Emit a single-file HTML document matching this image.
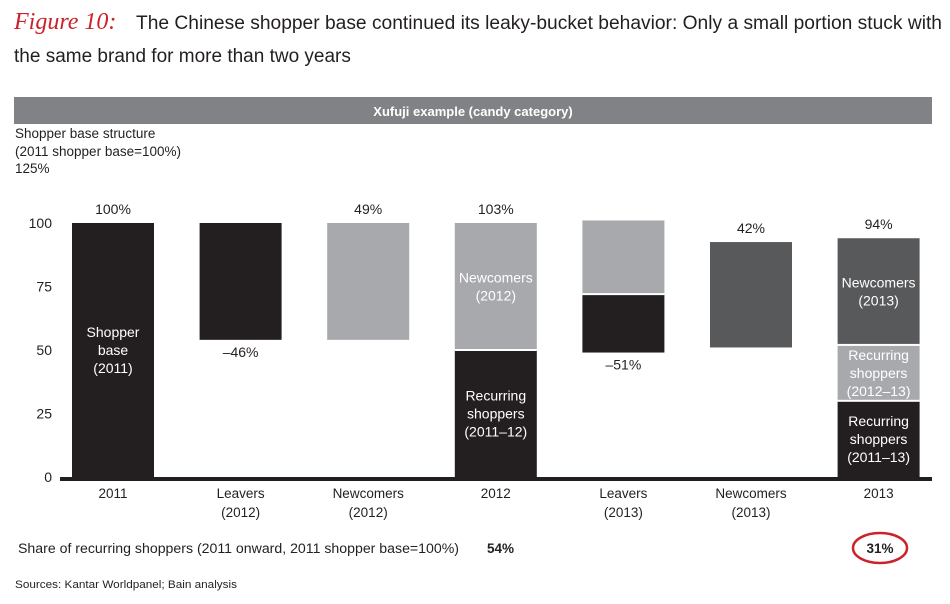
<!DOCTYPE html>
<html><head><meta charset="utf-8"><style>
body{margin:0;background:#fff;width:950px;height:604px;overflow:hidden}
svg{display:block;font-family:"Liberation Sans",sans-serif}
</style></head><body>
<svg id="chart" width="950" height="604" viewBox="0 0 950 604">
<text x="14" y="29" font-size="24" fill="#cc2229" font-family="Liberation Serif,serif" font-style="italic">Figure 10:</text>
<text x="136" y="29" font-size="19" fill="#231f20" textLength="806" lengthAdjust="spacingAndGlyphs">The Chinese shopper base continued its leaky-bucket behavior: Only a small portion stuck with</text>
<text x="14" y="62" font-size="19" fill="#231f20">the same brand for more than two years</text>
<rect x="14" y="97" width="918" height="27" fill="#808285"/>
<text x="473" y="116" font-size="13" font-weight="bold" fill="#fff" text-anchor="middle">Xufuji example (candy category)</text>
<text x="15" y="138" font-size="13.5" fill="#231f20">Shopper base structure</text>
<text x="15" y="156" font-size="13.5" fill="#231f20">(2011 shopper base=100%)</text>
<text x="15" y="173" font-size="13.5" fill="#231f20">125%</text>
<g id="bars"></g>
<rect x="60" y="477" width="872" height="4" fill="#231f20"/>
<text x="18" y="553" font-size="13.5" fill="#231f20" textLength="441" lengthAdjust="spacingAndGlyphs">Share of recurring shoppers (2011 onward,  2011 shopper base=100%)</text>
<text x="487" y="553" font-size="13.5" font-weight="bold" fill="#231f20">54%</text>
<ellipse cx="880" cy="548" rx="27" ry="15" fill="none" stroke="#cc2229" stroke-width="2.5"/>
<text x="880" y="553" font-size="13.5" font-weight="bold" fill="#231f20" text-anchor="middle">31%</text>
<text x="15" y="588" font-size="11" fill="#231f20" textLength="222" lengthAdjust="spacingAndGlyphs">Sources: Kantar Worldpanel; Bain analysis</text>
</svg>
<script>
const categories=["2011","Leavers|(2012)","Newcomers|(2012)","2012","Leavers|(2013)","Newcomers|(2013)","2013"];
const tickValues=[0,25,50,75,100];
const segStart=[[0],[54],[54],[0,50],[49,72],[51],[0,30,52]];
const segEnd=[[100],[100],[100],[50,100],[72,101],[92.5],[30,52,94]];
const segColor=[["#231f20"],["#231f20"],["#a7a9ac"],["#231f20","#a7a9ac"],["#231f20","#a7a9ac"],["#58595b"],["#231f20","#a7a9ac","#58595b"]];
const segLabels=[["Shopper|base|(2011)"],[""],[""],["Recurring|shoppers|(2011–12)","Newcomers|(2012)"],["",""],[""],["Recurring|shoppers|(2011–13)","Recurring|shoppers|(2012–13)","Newcomers|(2013)"]];
const valueLabels=["100%","–46%","49%","103%","–51%","42%","94%"];
const valueLabelPos=["top","bottom","top","top","bottom","top","top"];
const svg=document.getElementById('chart');const g=document.getElementById('bars');
const NS="http://www.w3.org/2000/svg";
const y=v=>477-v*2.54;
const bandX=i=>72+i*127.6;const bw=82;
function txt(x,yy,s,attrs,parent){const t=document.createElementNS(NS,'text');t.setAttribute('x',x);t.setAttribute('y',yy);t.textContent=s;for(const k in attrs)t.setAttribute(k,attrs[k]);(parent||svg).appendChild(t);return t;}
tickValues.forEach(v=>{const t=txt(52,y(v)+5,String(v),{'font-size':14,'fill':'#231f20','text-anchor':'end'});

});
categories.forEach((c,i)=>{const cx=bandX(i)+bw/2;
c.split('|').forEach((l,j)=>{const t=txt(cx,498+j*19,l,{'font-size':13.5,'fill':'#231f20','text-anchor':'middle'});

});
let top=Infinity,bot=-Infinity;
segStart[i].forEach((s,k)=>{const e=segEnd[i][k];const r=document.createElementNS(NS,'rect');
r.setAttribute('x',bandX(i));r.setAttribute('y',y(e));r.setAttribute('width',bw);r.setAttribute('height',y(s)-y(e));r.setAttribute('fill',segColor[i][k]);


g.appendChild(r);
if(k>0){const ln=document.createElementNS(NS,'rect');ln.setAttribute('x',bandX(i));ln.setAttribute('y',y(s)-1);ln.setAttribute('width',bw);ln.setAttribute('height',2);ln.setAttribute('fill','#fff');


g.appendChild(ln);}
top=Math.min(top,y(e));bot=Math.max(bot,y(s));
const lab=segLabels[i][k];if(lab){const lines=lab.split('|');const mid=(y(s)+y(e))/2;
lines.forEach((l,j)=>{const t=txt(cx,mid+(j-(lines.length-1)/2)*18+5,l,{'font-size':14,'fill':'#fff','text-anchor':'middle'},g);

});}
});
const vy=valueLabelPos[i]==="top"?top-9:bot+17;
const t=txt(cx,vy,valueLabels[i],{'font-size':14,'fill':'#231f20','text-anchor':'middle'});


});
</script>
</body></html>
